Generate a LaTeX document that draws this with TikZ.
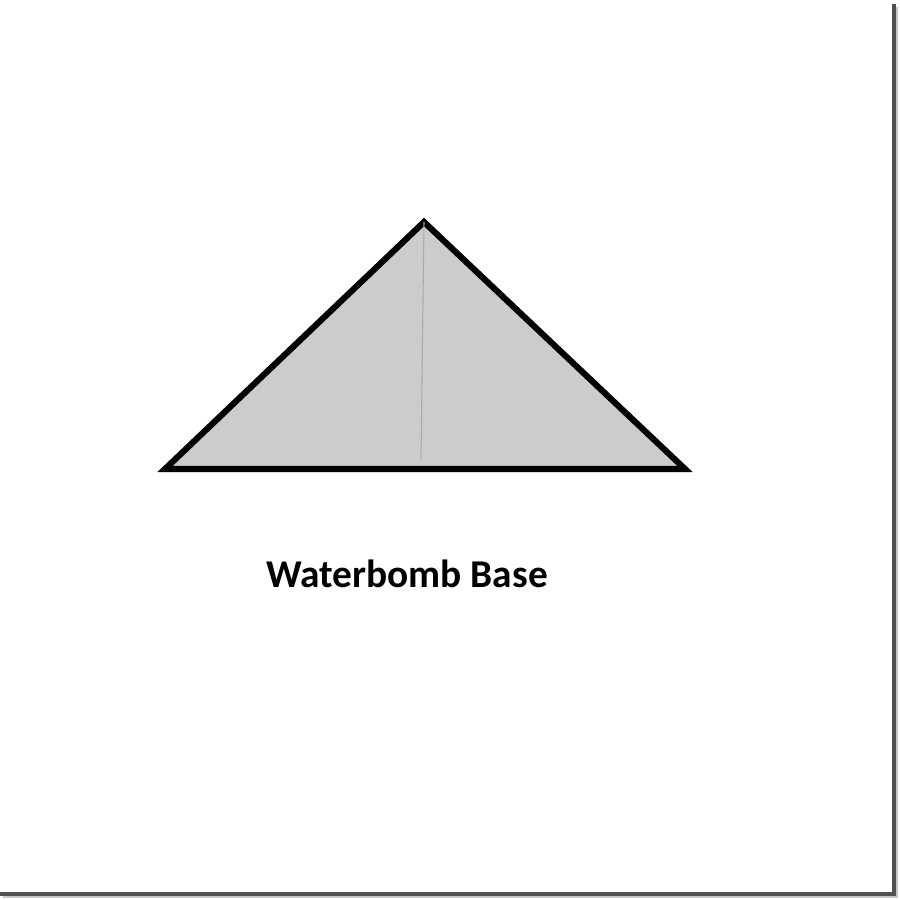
\documentclass[tikz,border=0pt]{standalone}
\usepackage{fontspec}
\setsansfont{Carlito}
\usetikzlibrary{positioning, calc}
\definecolor{basefill}{RGB}{204,204,204}
\definecolor{creaseclr}{RGB}{170,170,170}
\definecolor{frameclr}{RGB}{80,80,80}

\begin{document}
\begin{tikzpicture}[
    x=0.1mm, y=-0.1mm,
    % --- styles ---
    paper/.style  ={draw=black, fill=basefill, line width=1.75pt, line join=miter},
    crease/.style ={draw=creaseclr, line width=0.3pt},
    frameline/.style={draw=frameclr, line width=0.9pt},
    caption/.style={font=\sffamily\bfseries\fontsize{11.2}{13}\selectfont, inner sep=0pt},
]
\useasboundingbox (0,0) rectangle (900,900);

% =============== frame ===============
\coordinate (ftr) at (894,4);
\coordinate (fbr) at (894,894);
\coordinate (fbl) at (0,894);
\draw[frameline] (ftr) -- (fbr) -- (fbl);
\draw[draw=gray!45, line width=0.8pt] ($(ftr)+(3,3)$) -- ($(fbr)+(3,3)$) -- ($(fbl)+(3,3)$);

% =============== waterbomb base ===============
\coordinate (apex)  at (424,222);
\coordinate (left)  at (165,469);
\coordinate (right) at (685,469);
\coordinate (foot)  at (421,459);
\filldraw[paper] (left) -- (apex) -- (right) -- cycle;
\draw[crease] (apex) -- (foot);

% =============== label ===============
\node[caption] (label) at (407,574) {Waterbomb Base};

\end{tikzpicture}
\end{document}
